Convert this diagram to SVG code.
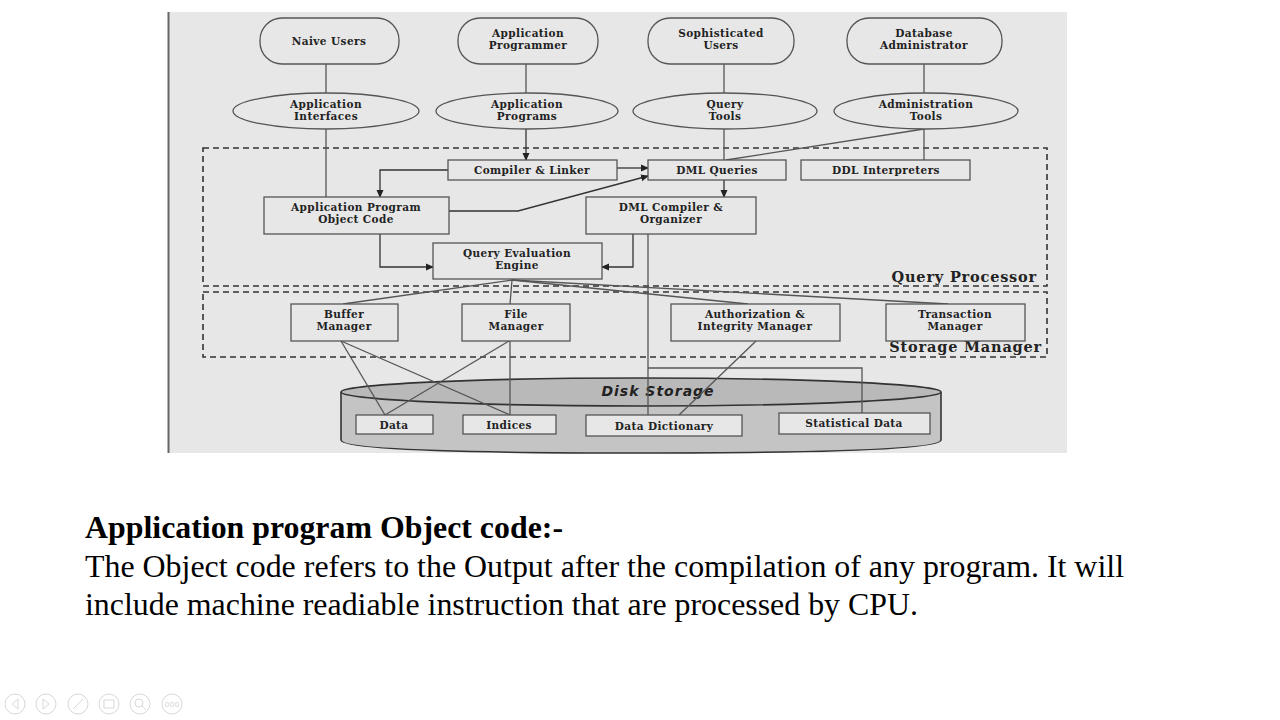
<svg xmlns="http://www.w3.org/2000/svg" width="1280" height="720" viewBox="0 0 1280 720">
<defs>
<marker id="arr" markerWidth="8" markerHeight="8" refX="7" refY="4" orient="auto" markerUnits="userSpaceOnUse">
<path d="M0,0.5 L8,4 L0,7.5 Z" fill="#222"/>
</marker>
<style>
.bg{fill:#e7e7e7}
.n{fill:#e7e7e7;stroke:#555;stroke-width:1.3}
.t{font-family:"DejaVu Serif","Liberation Serif",serif;font-weight:bold;font-size:10.5px;letter-spacing:0.4px;fill:#222;text-anchor:middle}
.lbl{font-family:"DejaVu Serif","Liberation Serif",serif;font-weight:bold;font-size:14.5px;letter-spacing:0.8px;fill:#222;text-anchor:end}
.c{fill:none;stroke:#555;stroke-width:1.3}
.ca{fill:none;stroke:#333;stroke-width:1.3;marker-end:url(#arr)}
.dash{fill:none;stroke:#333;stroke-width:1.6;stroke-dasharray:6,4}
.body{font-family:"Liberation Serif","Times New Roman",serif;font-size:31px;fill:#000}
.ctl{fill:none;stroke:#d8d8d8;stroke-width:1}
</style>
</defs>
<rect width="1280" height="720" fill="#ffffff"/>
<rect class="bg" x="168" y="12" width="899" height="441"/>
<line x1="168.5" y1="12" x2="168.5" y2="453" stroke="#666" stroke-width="2"/>

<g id="query-processor">
<rect class="dash" x="203" y="148" width="844" height="138"/>
<text class="lbl" x="1037" y="282">Query Processor</text>
</g>
<g id="storage-manager">
<rect class="dash" x="203" y="292" width="844" height="65"/>
<text class="lbl" x="1042" y="352">Storage Manager</text>
</g>

<g id="disk-storage">
<path d="M341,392 L341,440 Q341,453 641,453 Q941,453 941,440 L941,392" fill="#c4c4c4" stroke="#333" stroke-width="1.6"/>
<ellipse cx="641" cy="392" rx="300" ry="14" fill="#b9b9b9" stroke="#333" stroke-width="1.6"/>
<text x="658" y="396" font-family="DejaVu Sans, sans-serif" font-style="italic" font-weight="bold" font-size="14" fill="#222" text-anchor="middle" letter-spacing="1">Disk Storage</text>
</g>

<g id="connectors">
<line class="c" x1="326" y1="64" x2="326" y2="93"/>
<line class="c" x1="326" y1="129" x2="326" y2="197"/>
<line class="c" x1="526" y1="64" x2="526" y2="93"/>
<line class="ca" x1="526" y1="129" x2="526" y2="160"/>
<line class="c" x1="724" y1="64" x2="724" y2="93"/>
<line class="c" x1="724" y1="129" x2="724" y2="160"/>
<line class="c" x1="924" y1="64" x2="924" y2="93"/>
<line class="c" x1="924" y1="129" x2="924" y2="160"/>
<line class="c" x1="924" y1="129" x2="726" y2="160"/>
<polyline class="ca" points="448,170 380,170 380,197"/>
<line class="ca" x1="617" y1="168" x2="648" y2="168"/>
<polyline class="ca" points="449,211 518,211 648,176"/>
<line class="ca" x1="724" y1="180" x2="724" y2="197"/>
<polyline class="ca" points="380,234 380,267 433,267"/>
<polyline class="ca" points="633,234 633,267 602,267"/>
<line class="c" x1="648" y1="234" x2="648" y2="415"/>
<polyline class="c" points="648,368 862,368 862,413"/>
<line class="c" x1="512" y1="280" x2="343" y2="304"/>
<line class="c" x1="512" y1="280" x2="510" y2="304"/>
<line class="c" x1="512" y1="280" x2="748" y2="304"/>
<line class="c" x1="512" y1="280" x2="948" y2="304"/>
<line class="c" x1="341" y1="341" x2="385" y2="415"/>
<line class="c" x1="341" y1="341" x2="510" y2="415"/>
<line class="c" x1="509" y1="341" x2="385" y2="415"/>
<line class="c" x1="510" y1="341" x2="510" y2="415"/>
<line class="c" x1="756" y1="341" x2="679" y2="415"/>
</g>

<g id="naive-users"><rect class="n" x="260" y="18" width="139" height="46" rx="22"/><text class="t" x="329" y="45">Naive Users</text></g>
<g id="application-programmer"><rect class="n" x="458" y="18" width="140" height="46" rx="22"/><text class="t" x="528" y="37">Application</text><text class="t" x="528" y="49">Programmer</text></g>
<g id="sophisticated-users"><rect class="n" x="648" y="18" width="146" height="46" rx="22"/><text class="t" x="721" y="37">Sophisticated</text><text class="t" x="721" y="49">Users</text></g>
<g id="database-administrator"><rect class="n" x="847" y="18" width="155" height="46" rx="22"/><text class="t" x="924" y="37">Database</text><text class="t" x="924" y="49">Administrator</text></g>

<g id="application-interfaces"><ellipse class="n" cx="326" cy="111" rx="93" ry="18"/><text class="t" x="326" y="108">Application</text><text class="t" x="326" y="120">Interfaces</text></g>
<g id="application-programs"><ellipse class="n" cx="527" cy="111" rx="91" ry="18"/><text class="t" x="527" y="108">Application</text><text class="t" x="527" y="120">Programs</text></g>
<g id="query-tools"><ellipse class="n" cx="725" cy="111" rx="92" ry="18"/><text class="t" x="725" y="108">Query</text><text class="t" x="725" y="120">Tools</text></g>
<g id="administration-tools"><ellipse class="n" cx="926" cy="111" rx="92" ry="18"/><text class="t" x="926" y="108">Administration</text><text class="t" x="926" y="120">Tools</text></g>

<g id="compiler-linker"><rect class="n" x="448" y="160" width="169" height="20"/><text class="t" x="532" y="174">Compiler &amp; Linker</text></g>
<g id="dml-queries"><rect class="n" x="648" y="160" width="138" height="20"/><text class="t" x="717" y="174">DML Queries</text></g>
<g id="ddl-interpreters"><rect class="n" x="801" y="160" width="169" height="20"/><text class="t" x="886" y="174">DDL Interpreters</text></g>
<g id="app-object-code"><rect class="n" x="264" y="197" width="185" height="37"/><text class="t" x="356" y="211">Application Program</text><text class="t" x="356" y="223">Object Code</text></g>
<g id="dml-compiler"><rect class="n" x="586" y="197" width="170" height="37"/><text class="t" x="671" y="211">DML Compiler &amp;</text><text class="t" x="671" y="223">Organizer</text></g>
<g id="query-evaluation-engine"><rect class="n" x="433" y="243" width="169" height="36"/><text class="t" x="517" y="257">Query Evaluation</text><text class="t" x="517" y="269">Engine</text></g>

<g id="buffer-manager"><rect class="n" x="291" y="304" width="107" height="37"/><text class="t" x="344" y="318">Buffer</text><text class="t" x="344" y="330">Manager</text></g>
<g id="file-manager"><rect class="n" x="462" y="304" width="108" height="37"/><text class="t" x="516" y="318">File</text><text class="t" x="516" y="330">Manager</text></g>
<g id="authorization-manager"><rect class="n" x="671" y="304" width="169" height="37"/><text class="t" x="755" y="318">Authorization &amp;</text><text class="t" x="755" y="330">Integrity Manager</text></g>
<g id="transaction-manager"><rect class="n" x="886" y="304" width="139" height="37"/><text class="t" x="955" y="318">Transaction</text><text class="t" x="955" y="330">Manager</text></g>

<g id="data"><rect class="n" x="356" y="415" width="77" height="19"/><text class="t" x="394" y="429">Data</text></g>
<g id="indices"><rect class="n" x="463" y="415" width="93" height="19"/><text class="t" x="509" y="429">Indices</text></g>
<g id="data-dictionary"><rect class="n" x="586" y="415" width="156" height="21"/><text class="t" x="664" y="430">Data Dictionary</text></g>
<g id="statistical-data"><rect class="n" x="779" y="413" width="151" height="21"/><text class="t" x="854" y="427">Statistical Data</text></g>

<g id="caption">
<text class="body" x="85" y="538" font-weight="bold" textLength="478" lengthAdjust="spacingAndGlyphs">Application program Object code:-</text>
<text class="body" x="85" y="577" textLength="1039" lengthAdjust="spacingAndGlyphs">The Object code refers to the Output after the compilation of any program. It will</text>
<text class="body" x="85" y="615" textLength="833" lengthAdjust="spacingAndGlyphs">include machine readiable instruction that are processed by CPU.</text>
</g>

<g id="player-controls">
<circle class="ctl" cx="15" cy="704" r="10"/><path class="ctl" d="M18,699 L12,704 L18,709 Z"/>
<circle class="ctl" cx="46" cy="704" r="10"/><path class="ctl" d="M43,699 L49,704 L43,709 Z"/>
<circle class="ctl" cx="78" cy="704" r="10"/><path class="ctl" d="M73,709 L83,699"/>
<circle class="ctl" cx="109" cy="704" r="10"/><rect class="ctl" x="104" y="700" width="10" height="8"/>
<circle class="ctl" cx="140" cy="704" r="10"/><circle class="ctl" cx="139" cy="703" r="4"/><path class="ctl" d="M142,706 L146,710"/>
<circle class="ctl" cx="172" cy="704" r="10"/><text x="172" y="707" font-family="DejaVu Sans, sans-serif" font-size="8" fill="#d8d8d8" text-anchor="middle">ooo</text>
</g>
</svg>
